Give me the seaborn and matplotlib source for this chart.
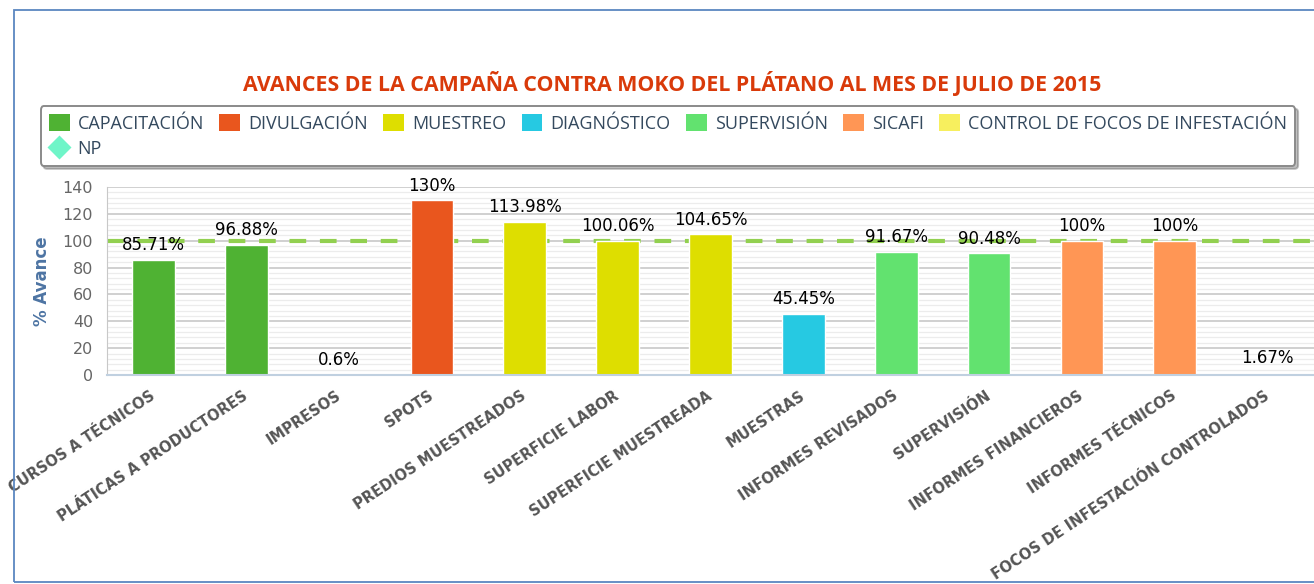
import matplotlib
matplotlib.use('Agg')

import matplotlib.pyplot as plt
import seaborn as sb
import pandas as pd
from matplotlib.lines import Line2D
from matplotlib.patches import Patch, Rectangle
from matplotlib.ticker import MultipleLocator

# data
actividades = ["CURSOS A TÉCNICOS", "PLÁTICAS A PRODUCTORES", "IMPRESOS", "SPOTS",
               "PREDIOS MUESTREADOS", "SUPERFICIE LABOR", "SUPERFICIE MUESTREADA",
               "MUESTRAS", "INFORMES REVISADOS", "SUPERVISIÓN", "INFORMES FINANCIEROS",
               "INFORMES TÉCNICOS", "FOCOS DE INFESTACIÓN CONTROLADOS"]
avance = [85.71, 96.88, 0.6, 130, 113.98, 100.06, 104.65, 45.45, 91.67, 90.48, 100, 100, 1.67]
grupo = ["CAPACITACIÓN", "CAPACITACIÓN", "DIVULGACIÓN", "DIVULGACIÓN",
         "MUESTREO", "MUESTREO", "MUESTREO", "DIAGNÓSTICO", "SUPERVISIÓN", "SUPERVISIÓN",
         "SICAFI", "SICAFI", "CONTROL DE FOCOS DE INFESTACIÓN"]
etiquetas = ["85.71%", "96.88%", "0.6%", "130%", "113.98%", "100.06%", "104.65%",
             "45.45%", "91.67%", "90.48%", "100%", "100%", "1.67%"]
np_meta = 100

colores = {
    "CAPACITACIÓN": "#4fb233",
    "DIVULGACIÓN": "#e9561e",
    "MUESTREO": "#dede00",
    "DIAGNÓSTICO": "#26c9e2",
    "SUPERVISIÓN": "#62e26f",
    "SICAFI": "#ff9655",
    "CONTROL DE FOCOS DE INFESTACIÓN": "#f7ef5e",
}

df = pd.DataFrame({'Actividad': actividades, 'Avance': avance, 'Grupo': grupo})

sb.set_style('white')
plt.rcParams['font.family'] = ['DejaVu Sans']

fig = plt.figure(figsize=(13.14, 5.84), dpi=100)
ax = fig.add_axes([107/1314, 1 - 375/584, 1 - 107/1314, (375 - 187)/584])

# NP line behind the bars
ax.axhline(np_meta, color='#92d050', lw=3, dashes=(4, 3.3), zorder=1)

sb.barplot(data=df, x='Actividad', y='Avance', hue='Grupo', palette=colores,
           dodge=False, width=0.46, saturation=1, edgecolor='white', linewidth=1,
           legend=False, ax=ax, zorder=2)

for i, (v, t) in enumerate(zip(avance, etiquetas)):
    ax.annotate(t, (i, v), xytext=(0, 4), textcoords='offset points',
                ha='center', va='bottom', fontsize=12, color='black', zorder=5)

ax.set_ylim(0, 140)
ax.set_xlim(-0.5, len(actividades) - 0.5)
ax.yaxis.set_major_locator(MultipleLocator(20))
ax.yaxis.set_minor_locator(MultipleLocator(4))
ax.grid(axis='y', which='major', color='#c4c4c4', lw=1.1, zorder=0)
ax.grid(axis='y', which='minor', color='#ececec', lw=0.9, zorder=0)
ax.set_axisbelow(True)

for s in ['top', 'right']:
    ax.spines[s].set_visible(False)
ax.spines['left'].set_color('#c8c8c8')
ax.spines['bottom'].set_color('#c0d0e0')
ax.spines['bottom'].set_linewidth(1.5)

ax.set_xlabel('')
ax.set_ylabel('')
ax.tick_params(axis='y', which='both', length=0, labelsize=11.5, labelcolor='#666666', pad=10)

# ticks at category boundaries
ax.set_xticks([i - 0.5 for i in range(len(actividades))])
ax.set_xticklabels([])
ax.tick_params(axis='x', which='major', length=6, width=3, color='#333333', direction='out')
for i, lab in enumerate(actividades):
    ax.annotate(lab, (i, 0), xytext=(0, -14), textcoords='offset points',
                ha='right', va='center', rotation=33.5, rotation_mode='anchor',
                fontsize=10.5, fontweight='bold', color='#555555', annotation_clip=False)

fig.text(42/1314, 1 - 281/584, '% Avance', rotation=90, ha='center', va='center',
         fontsize=12, fontweight='bold', color='#4d74a3')

fig.text(672/1314, 1 - 84/584,
         'AVANCES DE LA CAMPAÑA CONTRA MOKO DEL PLÁTANO AL MES DE JULIO DE 2015',
         ha='center', va='center', fontsize=15.4, fontweight='bold', color='#d93a0a',
         family=['Open Sans', 'DejaVu Sans'])

# legend: first column holds CAPACITACIÓN and NP
orden = list(colores.keys())
handles = [Patch(facecolor=colores[g], edgecolor='none', label=g) for g in orden]
np_handle = Line2D([], [], marker='D', color='none', markerfacecolor='#6ff5c8',
                   markeredgecolor='none', markersize=12, label='NP')
handles = [handles[0], np_handle] + handles[1:]
leg = fig.legend(handles=handles, loc='center', bbox_to_anchor=(668/1314, 1 - 136/584),
                 ncol=7, frameon=True, fancybox=True,
                 shadow={'ox': 2, 'oy': -2, 'alpha': 0.35},
                 prop={'family': ['Open Sans', 'DejaVu Sans'], 'size': 13},
                 handlelength=1.15, handleheight=1.1, handletextpad=0.45,
                 columnspacing=0.85, borderpad=0.45, labelspacing=0.35)
leg.get_frame().set_edgecolor('#8a8a8a')
leg.get_frame().set_linewidth(1.4)
for t in leg.get_texts():
    t.set_color('#34495e')

# outer blue frame
fig.add_artist(Rectangle((14/1314, 1 - 582/584), 1.2, (582 - 10)/584,
                         transform=fig.transFigure, fill=False,
                         edgecolor='#5b87c0', lw=1.3, clip_on=False))

fig.savefig('out.png', dpi=100)
